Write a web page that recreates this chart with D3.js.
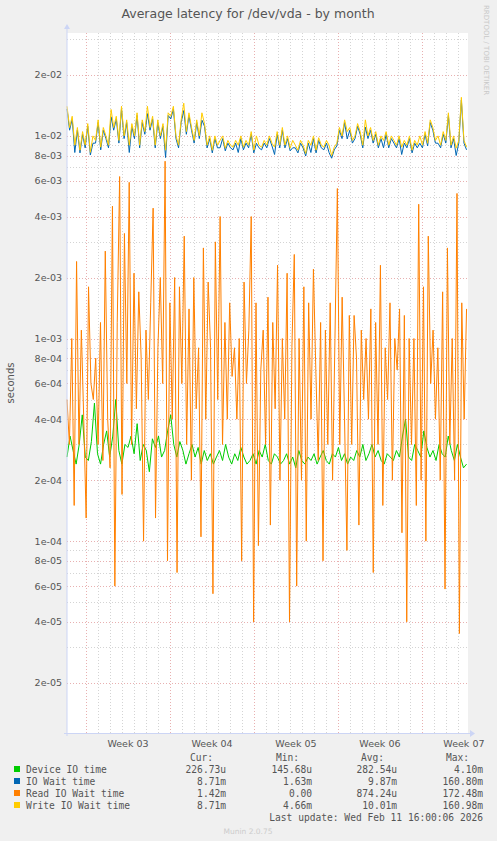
<!DOCTYPE html><html><head><meta charset="utf-8"><script src="https://cdn.jsdelivr.net/npm/d3@7"></script>
<style>body{margin:0;background:#f0f0f0}</style></head><body><svg id="c" width="497" height="841"></svg>
<script>
const readUs=[500,300,1000,150,2400,300,1100,400,130,1800,600,
500,800,300,1200,250,2700,400,230,4500,60,1200,6300,170,3300,600,5900,300,
2100,450,1700,800,100,1100,500,1500,4400,130,900,2000,600,7500,80,1500,400,
2000,70,1800,600,3200,300,1400,200,2000,450,900,105,2800,400,1900,900,
55,3000,500,4000,300,1200,400,1500,650,900,400,1000,80,1900,600,1100,4000,
40,1500,95,700,1100,300,1600,120,1200,450,2300,200,1000,400,2100,40,
900,2600,60,1000,200,1800,100,1500,400,2200,700,250,1200,80,1100,300,
1500,200,1000,5500,300,1600,400,90,1300,300,1300,800,120,1100,500,1000,
400,1400,70,1200,300,2300,150,900,500,1500,200,1000,700,1400,110,1300,
40,1000,300,1000,150,4600,200,1800,100,3200,600,1100,400,900,200,1700,58,2800,300,1000,200,5200,35,1500,400,1400];
const deviceUs=[260,330,280,240,300,420,260,250,310,480,270,240,300,350,260,330,500,280,240,300,
290,330,270,380,250,300,280,220,320,290,330,260,280,350,420,300,260,310,280,240,
270,300,260,290,240,280,250,270,240,260,280,250,300,260,240,270,250,290,260,240,
250,270,240,280,260,300,250,240,270,260,240,250,270,240,260,230,280,250,240,260,
250,270,240,260,280,250,240,270,260,290,250,270,240,260,250,280,260,300,250,270,
300,260,280,250,240,270,260,250,280,260,330,400,260,250,300,280,260,350,290,260,
280,250,300,270,260,330,280,250,300,260,230,240];
const writeMs=[14,11,12.5,9,11,8.5,10.5,9,11.5,8.3,10,9.5,12,8.8,11,10,9,13.5,11,12.5,9.5,14,10,12,9,11.5,10,13,9,12,10.5,
14,11,12.5,9,12,10,11.5,8.5,13,12.5,14,10,9,12,14.5,10.5,13,11,9.5,12,10,13,11.5,9,10,8.5,10,9,9.5,10,8.7,9.5,
9,8.8,9.5,9,10,8.8,9.5,9,10.5,8.5,10,9,8.8,9.5,9,10,9.2,8.8,10.5,9,11,9,10,8.7,9.5,9,8.5,9.5,9,8.2,
9.5,9,10,8.5,9.8,9,8.8,9.5,9,8,8.8,9.2,11,10,12,10.5,11,9.5,10,11.5,10.5,9,12,10,11,9.5,10.5,9,10,9.5,
10.5,9,10,9.5,9,10,8.8,9.5,9,10,8.5,9.5,9,10,9,10.5,9.2,12,11,9.5,10,9,10.5,9.5,13,9,10,8.7,9.5,15.5,9.5,8.8];
const ioMs=writeMs.map((v,i)=>v*(i%7==3?0.92:0.97));
const yTicks=[2e-2,1e-2,8e-3,6e-3,4e-3,2e-3,1e-3,8e-4,6e-4,4e-4,2e-4,1e-4,8e-5,6e-5,4e-5,2e-5];
const weeks=["Week 03","Week 04","Week 05","Week 06","Week 07"];
const legendNames=["Device IO time","IO Wait time","Read IO Wait time","Write IO Wait time"];
const legendColors=["#00cc00","#0066b3","#ff8000","#ffcc00"];
const cur=["226.73u","8.71m","1.42m","8.71m"],mn=["145.68u","1.63m","0.00","4.66m"],
avg=["282.54u","9.87m","874.24u","10.01m"],mx=["4.10m","160.80m","172.48m","160.98m"];

const svg=d3.select("#c");
const L=67,R=468,T=33,B=733;
const y=d3.scaleLog().domain([1.13e-5,3.22e-2]).range([B,T]);
const x=d3.scaleLinear().domain([0,33.42]).range([L,R]);
svg.append("rect").attr("x",L).attr("y",T).attr("width",R-L).attr("height",B-T).attr("fill","#fff");
const minors=[];for(let e=-5;e<=-2;e++)for(let m=1;m<=9;m++){const v=m*Math.pow(10,e);if(v>1.13e-5&&v<3.22e-2)minors.push(v);}
const isMajor=v=>yTicks.some(t=>Math.abs(t-v)/v<1e-6);
svg.selectAll(".yg").data(minors).enter().append("line").attr("x1",L).attr("x2",R)
 .attr("y1",d=>Math.round(y(d))+.5).attr("y2",d=>Math.round(y(d))+.5)
 .attr("stroke",d=>isMajor(d)?"#e8b0b0":"#d4d4d4").attr("stroke-dasharray","1,2");
const days=d3.range(0,34).map(d=>d+1.58).filter(d=>d<33.4);
svg.selectAll(".xg").data(days).enter().append("line").attr("y1",T).attr("y2",B)
 .attr("x1",d=>Math.round(x(d))+.5).attr("x2",d=>Math.round(x(d))+.5)
 .attr("stroke",(d,i)=>i%7==0?"#e8b0b0":"#d4d4d4").attr("stroke-dasharray","1,2");
svg.selectAll(".yl").data(yTicks).enter().append("text").attr("x",L-5).attr("y",d=>y(d)+3.5)
 .attr("text-anchor","end").attr("font-family","DejaVu Sans").attr("font-size",9.5).attr("fill","#555")
 .text(d=>d.toExponential(0).replace(/e([+-])(\d)$/,"e$10$2"));
svg.selectAll(".wl").data(weeks).enter().append("text").attr("x",(d,i)=>x(1.58+7*i+3.5)).attr("y",B+14)
 .attr("text-anchor","middle").attr("font-family","DejaVu Sans").attr("font-size",9.5).attr("fill","#555").text(d=>d);
function draw(vals,scale,color){
 const n=vals.length;const xs=d3.scaleLinear().domain([0,n-1]).range([0,33.3]);
 svg.append("path").datum(vals).attr("fill","none").attr("stroke",color).attr("stroke-width",1)
  .attr("d",d3.line().x((d,i)=>x(xs(i))).y(d=>y(d*scale)));
}
draw(deviceUs,1e-6,"#00cc00");
draw(ioMs,1e-3,"#0066b3");
draw(readUs,1e-6,"#ff8000");
draw(writeMs,1e-3,"#ffcc00");
svg.append("line").attr("x1",L).attr("x2",L).attr("y1",B+3).attr("y2",T-5).attr("stroke","#ccd5f5");
svg.append("line").attr("x1",L-3).attr("x2",R+3).attr("y1",B+.5).attr("y2",B+.5).attr("stroke","#ccd5f5");
svg.append("path").attr("d",`M${R+2},${B-3}L${R+7},${B+.5}L${R+2},${B+4}Z`).attr("fill","#ccd5f5");
svg.append("path").attr("d",`M${L-3},${T-4}L${L},${T-9}L${L+3},${T-4}Z`).attr("fill","#ccd5f5");
svg.append("text").attr("x",248).attr("y",18).attr("text-anchor","middle").attr("font-family","DejaVu Sans").attr("font-size",12.5).attr("fill","#555").text("Average latency for /dev/vda - by month");
svg.append("text").attr("transform","translate(14,383) rotate(-90)").attr("text-anchor","middle").attr("font-family","DejaVu Sans").attr("font-size",10).attr("fill","#555").text("seconds");
svg.append("text").attr("transform","translate(484,5) rotate(90)").attr("font-family","DejaVu Sans").attr("font-size",7).attr("fill","#c8c8c8").text("RRDTOOL / TOBI OETIKER");
const mono={"font-family":"DejaVu Sans Mono","font-size":9.6,"fill":"#555"};
function t(xp,yp,s,anchor){const e=svg.append("text").attr("x",xp).attr("y",yp).attr("text-anchor",anchor||"start").text(s);for(const k in mono)e.attr(k,mono[k]);}
t(213,761,"Cur:","end");t(299,761,"Min:","end");t(384,761,"Avg:","end");t(469,761,"Max:","end");
legendNames.forEach((n,i)=>{const yy=773+12*i;
 svg.append("rect").attr("x",14).attr("y",yy-7).attr("width",6).attr("height",6).attr("fill",legendColors[i]);
 t(26,yy,n);t(226,yy,cur[i],"end");t(312,yy,mn[i],"end");t(397,yy,avg[i],"end");t(483,yy,mx[i],"end");});
t(483,821,"Last update: Wed Feb 11 16:00:06 2026","end");
svg.append("text").attr("x",248).attr("y",834).attr("text-anchor","middle").attr("font-family","DejaVu Sans").attr("font-size",7.5).attr("fill","#ccc").text("Munin 2.0.75");
</script></body></html>
